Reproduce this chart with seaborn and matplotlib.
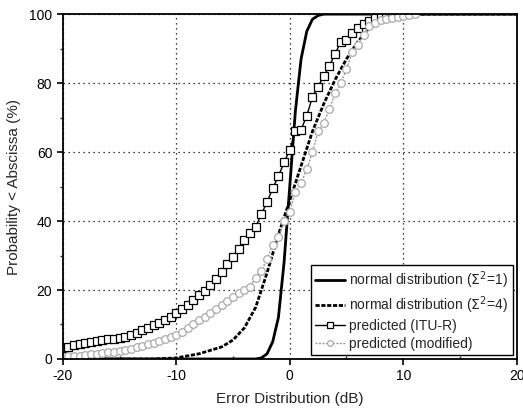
import numpy as np
import pandas as pd
import seaborn as sns
import matplotlib.pyplot as plt
from matplotlib.ticker import MultipleLocator

# normal distribution, sigma^2 = 1
n1_x = [-20, -3, -2.5, -2, -1.5, -1, -0.5, 0, 0.5, 1, 1.5, 2, 2.5, 3, 20]
n1_y = [0, 0, 0.3, 1.5, 5, 12, 28, 50, 72, 87, 95, 98.5, 99.6, 100, 100]

# normal distribution, sigma^2 = 4
n4_x = [-20, -12, -10, -8, -6, -5, -4, -3, -2, -1, 0, 1, 2, 3, 4, 5, 6, 7, 8, 9, 10, 12, 20]
n4_y = [0, 0, 0.3, 1.5, 3.5, 5.5, 9, 15, 25, 36, 46, 56, 66, 74, 81, 87, 92, 96, 98, 99.3, 99.8, 100, 100]

# predicted (ITU-R), 0.5 dB steps from -20
itu_x = list(np.arange(-20, 10, 0.5))
itu_y = [3.2, 3.6, 4.0, 4.3, 4.6, 5.0, 5.3, 5.6, 5.9, 5.8,
         6.0, 6.4, 7.0, 7.6, 8.3, 9.0, 9.9, 10.5, 11.4, 12.3,
         13.3, 14.4, 15.6, 17.0, 18.5, 19.8, 21.5, 23.3, 25.3, 27.4,
         29.7, 32.0, 34.5, 36.5, 38.3, 42.0, 45.5, 49.5, 53.0, 57.0,
         60.6, 66.0, 66.5, 70.5, 76.0, 79.0, 82.0, 85.0, 88.5, 92.0,
         92.5, 94.5, 96.0, 97.0, 98.0, 98.8, 99.3, 99.6, 99.8, 100]

# predicted (modified), 0.5 dB steps from -20
mod_x = list(np.arange(-20, 11.5, 0.5))
mod_y = [0.7, 0.8, 0.9, 1.0, 1.1, 1.3, 1.5, 1.7, 1.9, 2.1,
         2.4, 2.7, 3.0, 3.4, 3.8, 4.2, 4.7, 5.2, 5.8, 6.4,
         7.0, 7.9, 8.9, 10.0, 11.2, 12.2, 13.3, 14.4, 15.6, 16.8,
         18.0, 19.0, 20.0, 21.0, 23.5, 25.5, 29.0, 33.0, 35.5, 40.0,
         42.7, 48.5, 51.0, 55.0, 60.0, 66.0, 68.5, 72.5, 77.0, 80.0,
         84.0, 89.0, 91.0, 94.0, 96.5, 97.5, 98.2, 98.7, 99.0, 99.3,
         99.5, 99.7, 99.9]

sns.set_style("ticks")
plt.rcParams['font.family'] = ['Liberation Sans', 'DejaVu Sans']
plt.rcParams['axes.unicode_minus'] = False

fig = plt.figure(figsize=(5.23, 4.15), dpi=100)
ax = fig.add_axes([0.12, 0.135, 0.868, 0.831])

sns.lineplot(x=n1_x, y=n1_y, ax=ax, color='black', lw=2.0,
             label=r'normal distribution ($\mathit{\Sigma}^2$=1)')
sns.lineplot(x=n4_x, y=n4_y, ax=ax, color='black', lw=2.0, linestyle=(0, (1.5, 0.6)),
             label=r'normal distribution ($\mathit{\Sigma}^2$=4)')
sns.lineplot(x=itu_x, y=itu_y, ax=ax, color='black', lw=1.0, marker='s', markersize=5.5,
             markerfacecolor='white', markeredgecolor='black', markeredgewidth=0.9,
             label='predicted (ITU-R)')
sns.lineplot(x=mod_x, y=mod_y, ax=ax, color='#999999', lw=1.0, linestyle=(0, (1.5, 1)),
             marker='o', markersize=5.5, markerfacecolor='white', markeredgecolor='#aaaaaa',
             markeredgewidth=0.9, label='predicted (modified)')

ax.set_xlim(-20, 20)
ax.set_ylim(0, 100)
ax.xaxis.set_major_locator(MultipleLocator(10))
ax.xaxis.set_minor_locator(MultipleLocator(5))
ax.yaxis.set_major_locator(MultipleLocator(20))
ax.yaxis.set_minor_locator(MultipleLocator(10))
ax.grid(True, which='major', color='black', linestyle=(0, (1, 3)), lw=0.9)
ax.tick_params(which='major', length=4, width=1.2, labelsize=10, colors='black')
ax.tick_params(which='minor', length=2.5, width=1.0)
ax.tick_params(axis='x', which='minor', direction='in')
for s in ax.spines.values():
    s.set_visible(True)
    s.set_linewidth(1.3)
    s.set_color('black')

ax.set_xlabel('Error Distribution (dB)', fontsize=11, labelpad=6)
ax.set_ylabel('Probability < Abscissa (%)', fontsize=11, labelpad=6)

leg = ax.legend(loc='lower right', fontsize=10, frameon=True, fancybox=False,
                borderaxespad=0.3, handlelength=2.2, handletextpad=0.3,
                labelspacing=0.25, borderpad=0.3, markerscale=0.75)
leg.get_frame().set_edgecolor('black')
leg.get_frame().set_linewidth(1.0)
leg.get_frame().set_alpha(1.0)

fig.savefig('out.png', dpi=100)
